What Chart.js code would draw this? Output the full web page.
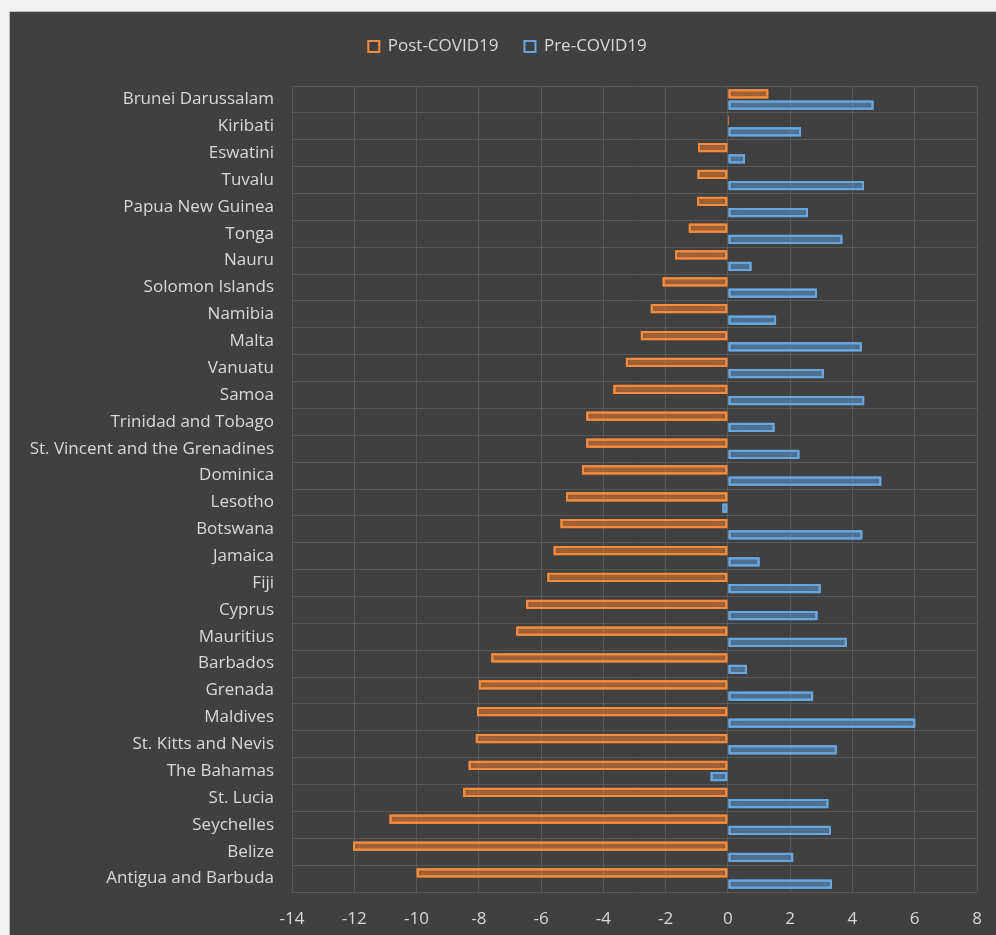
<!DOCTYPE html>
<html>
<head>
<meta charset="utf-8">
<script src="https://cdn.jsdelivr.net/npm/chart.js@4.4.0/dist/chart.umd.min.js"></script>
<style>
  html, body { margin: 0; padding: 0; background: #f2f2f2; }
  #wrap {
    position: absolute; left: 9px; top: 11px; width: 987px; height: 924px;
    background: #404040; border-left: 1px solid #bfbfbf; border-top: 1px solid #bfbfbf;
    box-sizing: border-box;
  }
</style>
</head>
<body>
<div id="wrap"><canvas id="myChart"></canvas></div>
<script>
const countries = [
  "Brunei Darussalam", "Kiribati", "Eswatini", "Tuvalu", "Papua New Guinea",
  "Tonga", "Nauru", "Solomon Islands", "Namibia", "Malta", "Vanuatu", "Samoa",
  "Trinidad and Tobago", "St. Vincent and the Grenadines", "Dominica", "Lesotho",
  "Botswana", "Jamaica", "Fiji", "Cyprus", "Mauritius", "Barbados", "Grenada",
  "Maldives", "St. Kitts and Nevis", "The Bahamas", "St. Lucia", "Seychelles",
  "Belize", "Antigua and Barbuda"
];
const postCovid = [
  1.3, 0.04, -0.96, -0.98, -0.99, -1.26, -1.7, -2.1, -2.48, -2.8, -3.28, -3.68,
  -4.55, -4.55, -4.69, -5.2, -5.38, -5.6, -5.8, -6.48, -6.8, -7.6, -8.0, -8.06,
  -8.1, -8.33, -8.5, -10.87, -12.04, -10.0
];
const preCovid = [
  4.68, 2.35, 0.55, 4.37, 2.57, 3.68, 0.76, 2.86, 1.55, 4.3, 3.08, 4.38,
  1.5, 2.3, 4.93, -0.18, 4.32, 1.02, 2.98, 2.88, 3.82, 0.61, 2.74, 6.02,
  3.5, -0.56, 3.23, 3.31, 2.1, 3.34
];
const seriesNames = ["Post-COVID19", "Pre-COVID19"];
const xMin = -14, xMax = 8, xStep = 2;

const orange = "#F28C3F", orangeGlow = "rgba(237,125,49,1)";
const blue = "#6AA6DE", blueGlow = "rgba(91,155,213,1)";
const textColor = "#d9d9d9";
const gridColor = "#595959";
const font = { family: "Open Sans", size: 17, lineHeight: 1.0 };

// soft glow round the bars, like the Excel effect: draw twice more with a shadow
const glow = {
  id: "glow",
  beforeDatasetDraw(chart, args) {
    const ctx = chart.ctx;
    ctx.save();
    ctx.shadowColor = args.index === 0 ? orangeGlow : blueGlow;
    ctx.shadowBlur = 12;
    args.meta.data.forEach((el) => el.draw(ctx));
    args.meta.data.forEach((el) => el.draw(ctx));
  },
  afterDatasetDraw(chart) {
    chart.ctx.restore();
  }
};

// fixed legend height, legend nudged a little to the right
const legendTweak = {
  id: "legendTweak",
  beforeInit(chart) {
    const legend = chart.legend;
    const fit = legend.fit;
    legend.fit = function () {
      fit.bind(legend)();
      this.height = 74;
    };
    const draw = legend.draw;
    legend.draw = function () {
      chart.ctx.save();
      chart.ctx.translate(14, 0);
      draw.bind(legend)();
      chart.ctx.restore();
    };
  }
};

const ctx = document.getElementById("myChart").getContext("2d");
const myChart = new Chart(ctx, {
  type: "bar",
  data: {
    labels: countries,
    datasets: [
      {
        label: seriesNames[0],
        data: postCovid,
        backgroundColor: "rgba(0,0,0,0)",
        borderColor: orange,
        borderWidth: 2,
        borderSkipped: false,
        categoryPercentage: 0.84,
        barPercentage: 0.82,
      },
      {
        label: seriesNames[1],
        data: preCovid,
        backgroundColor: "rgba(0,0,0,0)",
        borderColor: blue,
        borderWidth: 2,
        borderSkipped: false,
        categoryPercentage: 0.84,
        barPercentage: 0.82,
      },
    ],
  },
  options: {
    indexAxis: "y",
    responsive: true,
    maintainAspectRatio: false,
    animation: false,
    layout: { padding: { left: 0, right: 19, top: 0, bottom: 0 } },
    plugins: {
      tooltip: { enabled: false },
      legend: {
        position: "top",
        labels: {
          color: textColor,
          font: font,
          boxWidth: 11,
          boxHeight: 11,
          padding: 26,
        },
      },
    },
    scales: {
      x: {
        min: xMin,
        max: xMax,
        afterFit(scale) {
          scale.height = 43;
          scale.paddingLeft = 0;
          scale.paddingRight = 0;
        },
        ticks: { stepSize: xStep, color: textColor, font: font, padding: 19 },
        grid: { color: gridColor, drawTicks: false },
        border: { display: false },
      },
      y: {
        afterFit(scale) { scale.width = 282; },
        ticks: { color: textColor, font: font, padding: 18, autoSkip: false },
        grid: { color: gridColor, drawTicks: false, offset: true },
        border: { display: false },
      },
    },
  },
  plugins: [glow, legendTweak],
});
</script>
</body>
</html>
